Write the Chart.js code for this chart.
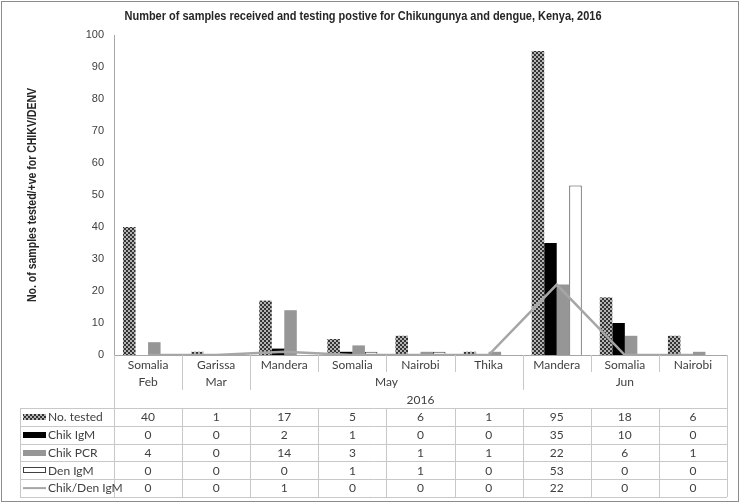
<!DOCTYPE html>
<html>
<head>
<meta charset="utf-8">
<script src="https://cdn.jsdelivr.net/npm/chart.js@4.4.1/dist/chart.umd.min.js"></script>
<style>
  html, body { margin: 0; padding: 0; background: #fff; }
  #wrap { width: 740px; height: 503px; }
</style>
</head>
<body>
<div id="wrap"><canvas id="chart" width="740" height="503"></canvas></div>
<script>
// categories
const sites = ["Somalia", "Garissa", "Mandera", "Somalia", "Nairobi", "Thika", "Mandera", "Somalia", "Nairobi"];
const months = ["Feb", "Mar", "May", "May", "May", "May", "Jun", "Jun", "Jun"];
const year = "2016";

// series
const noTested = [40, 1, 17, 5, 6, 1, 95, 18, 6];
const chikIgM = [0, 0, 2, 1, 0, 0, 35, 10, 0];
const chikPCR = [4, 0, 14, 3, 1, 1, 22, 6, 1];
const denIgM = [0, 0, 0, 1, 1, 0, 53, 0, 0];
const chikDenIgM = [0, 0, 1, 0, 0, 0, 22, 0, 0];

const yTicks = [0, 10, 20, 30, 40, 50, 60, 70, 80, 90, 100];

const titleText = "Number of samples received and testing postive for Chikungunya and dengue, Kenya, 2016";
const yTitle = "No. of samples tested/+ve for CHIKV/DENV";

const textFont = "'Liberation Sans', Arial, sans-serif";
const tableFont = "Lato, 'Open Sans', sans-serif";

// checkered fill for "No. tested"
function checker() {
    const c = document.createElement("canvas");
    c.width = 4; c.height = 4;
    const g = c.getContext("2d");
    g.fillStyle = "#b4b4b4";
    g.fillRect(0, 0, 4, 4);
    g.fillStyle = "#333333";
    g.fillRect(0, 0, 2, 2);
    g.fillRect(2, 2, 2, 2);
    return g.createPattern(c, "repeat");
}
const checkFill = checker();

const series = [
    {label: "No. tested", data: noTested, key: "check"},
    {label: "Chik IgM", data: chikIgM, key: "black"},
    {label: "Chik PCR", data: chikPCR, key: "gray"},
    {label: "Den IgM", data: denIgM, key: "white"},
    {label: "Chik/Den IgM", data: chikDenIgM, key: "line"}
];

const lineGray = "#a6a6a6";
const gridGray = "#c8c8c8";

// draws the category labels, the data table and the titles
const tablePlugin = {
    id: "tablePlugin",
    afterDraw(chart) {
        const ctx = chart.ctx;
        const xs = chart.scales.x;
        const area = chart.chartArea;
        const n = sites.length;
        const step = (area.right - area.left) / n;
        const mid = i => xs.getPixelForValue(i);
        const edge = i => i < n ? mid(i) - step / 2 : mid(n - 1) + step / 2;
        const y0 = area.bottom;
        const tableTop = y0 + 53;
        const rowH = 17.8;
        const tableLeft = 20;

        ctx.save();
        ctx.lineWidth = 1;

        // frame
        ctx.strokeStyle = "#8c8c8c";
        ctx.strokeRect(1.5, 1.5, 737, 500);

        // category separators
        ctx.strokeStyle = gridGray;
        ctx.beginPath();
        for (let i = 1; i < n; i++) {
            const bx = Math.round(edge(i)) + 0.5;
            const newMonth = months[i] !== months[i - 1];
            ctx.moveTo(bx, y0);
            ctx.lineTo(bx, newMonth ? y0 + 35 : y0 + 17);
        }
        ctx.moveTo(Math.round(edge(0)) + 0.5, y0);
        ctx.lineTo(Math.round(edge(0)) + 0.5, tableTop + rowH * series.length);
        ctx.moveTo(Math.round(edge(n)) + 0.5, y0);
        ctx.lineTo(Math.round(edge(n)) + 0.5, tableTop + rowH * series.length);
        ctx.stroke();

        // table grid
        ctx.beginPath();
        for (let r = 0; r <= series.length; r++) {
            const yy = Math.round(tableTop + r * rowH) + 0.5;
            ctx.moveTo(tableLeft, yy);
            ctx.lineTo(edge(n), yy);
        }
        ctx.moveTo(tableLeft + 0.5, tableTop);
        ctx.lineTo(tableLeft + 0.5, tableTop + rowH * series.length);
        for (let i = 1; i < n; i++) {
            const bx = Math.round(edge(i)) + 0.5;
            ctx.moveTo(bx, tableTop);
            ctx.lineTo(bx, tableTop + rowH * series.length);
        }
        ctx.stroke();

        // labels
        ctx.fillStyle = "#404040";
        ctx.font = "12px " + tableFont;
        ctx.textAlign = "center";
        ctx.textBaseline = "middle";
        for (let i = 0; i < n; i++) {
            ctx.fillText(sites[i], mid(i), y0 + 10);
        }
        let start = 0;
        for (let i = 1; i <= n; i++) {
            if (i === n || months[i] !== months[start]) {
                ctx.fillText(months[start], (edge(start) + edge(i)) / 2, y0 + 27);
                start = i;
            }
        }
        ctx.fillText(year, (edge(0) + edge(n)) / 2, y0 + 45);

        // table rows
        series.forEach((s, r) => {
            const cy = tableTop + r * rowH + rowH / 2;
            for (let i = 0; i < n; i++) {
                ctx.fillText(String(s.data[i]), mid(i), cy + 0.5);
            }
            const kx = 23, kw = 23;
            if (s.key === "line") {
                ctx.strokeStyle = lineGray;
                ctx.lineWidth = 2;
                ctx.beginPath();
                ctx.moveTo(kx, cy);
                ctx.lineTo(kx + kw, cy);
                ctx.stroke();
                ctx.lineWidth = 1;
            } else if (s.key === "white") {
                ctx.fillStyle = "#fff";
                ctx.fillRect(kx, cy - 3, kw, 6);
                ctx.strokeStyle = "#404040";
                ctx.strokeRect(kx + 0.5, Math.round(cy - 3) + 0.5, kw - 1, 5);
            } else {
                ctx.fillStyle = s.key === "check" ? checkFill : (s.key === "black" ? "#000" : "#969696");
                ctx.fillRect(kx, Math.round(cy - 3), kw, 6);
            }
            ctx.fillStyle = "#404040";
            ctx.textAlign = "left";
            ctx.fillText(s.label, kx + kw + 2, cy + 0.5);
            ctx.textAlign = "center";
        });

        // chart title
        ctx.fillStyle = "#262626";
        ctx.font = "bold 12px " + textFont;
        ctx.fillText(titleText, 363, 17, 477);

        // y axis title
        ctx.save();
        ctx.translate(33, (area.top + area.bottom) / 2);
        ctx.rotate(-Math.PI / 2);
        ctx.font = "bold 12px " + textFont;
        ctx.fillText(yTitle, 0, 0, 214);
        ctx.restore();

        ctx.restore();
    }
};

new Chart(document.getElementById("chart"), {
    type: "bar",
    data: {
        labels: sites,
        datasets: [
            {
                type: "line",
                label: "Chik/Den IgM",
                data: chikDenIgM,
                borderColor: lineGray,
                borderWidth: 2.5,
                pointRadius: 0,
                tension: 0,
                fill: false,
                order: 0
            },
            {label: "No. tested", data: noTested, backgroundColor: checkFill, borderWidth: 0, order: 1},
            {label: "Chik IgM", data: chikIgM, backgroundColor: "#000000", borderWidth: 0, order: 1},
            {label: "Chik PCR", data: chikPCR, backgroundColor: "#969696", borderWidth: 0, order: 1},
            {label: "Den IgM", data: denIgM, backgroundColor: "#ffffff", borderColor: "#404040", borderWidth: 1, borderSkipped: "bottom", order: 1}
        ]
    },
    options: {
        responsive: false,
        animation: false,
        devicePixelRatio: 1,
        layout: {padding: {left: 22, right: 13, top: 35, bottom: 148}},
        datasets: {
            bar: {categoryPercentage: 0.735, barPercentage: 1}
        },
        plugins: {
            legend: {display: false},
            tooltip: {enabled: false},
            title: {display: false}
        },
        scales: {
            x: {
                grid: {display: false},
                border: {display: true, color: lineGray, width: 1},
                ticks: {display: false},
                afterFit: s => { s.height = 0; }
            },
            y: {
                min: 0,
                max: 100,
                afterBuildTicks: s => { s.ticks = yTicks.map(v => ({value: v})); },
                grid: {display: false, drawTicks: false},
                border: {display: true, color: lineGray, width: 1},
                ticks: {
                    padding: 10,
                    color: "#404040",
                    font: {family: textFont, size: 11}
                },
                title: {display: false},
                afterFit: s => { s.width = 92; }
            }
        }
    },
    plugins: [tablePlugin]
});
</script>
</body>
</html>
